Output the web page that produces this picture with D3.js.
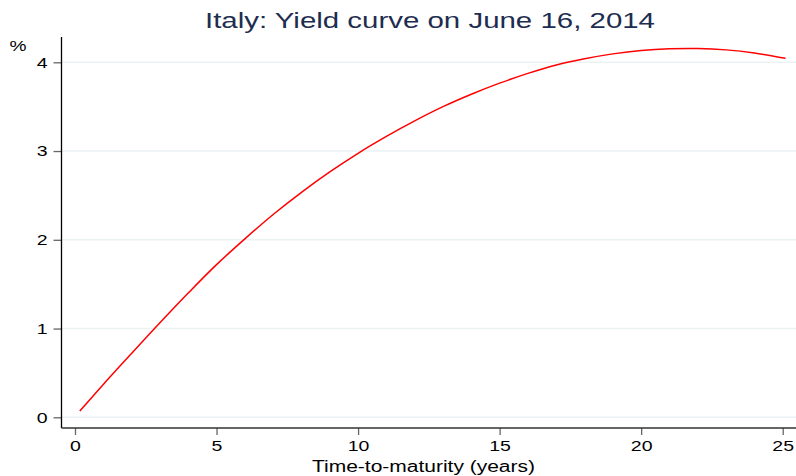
<!DOCTYPE html>
<html>
<head>
<meta charset="utf-8">
<script src="https://cdn.jsdelivr.net/npm/d3@7"></script>
<style>
  body { margin: 0; background: #fff; }
  svg { display: block; font-family: "Liberation Sans", Arial, sans-serif; }
</style>
</head>
<body>
<div id="chart"></div>
<script>
// maturities (years) and fitted yields (%)
var maturity = [0.17, 1, 2, 3, 4, 5, 6, 7, 8, 9, 10, 11, 12, 13, 14, 15, 16, 17, 18, 19, 20, 21, 22, 23, 24, 25.1];
var yieldPct = [0.07, 0.37, 0.72, 1.065, 1.40, 1.72, 2.01, 2.285, 2.535, 2.765, 2.975, 3.165, 3.34, 3.50, 3.64, 3.765, 3.875, 3.97, 4.04, 4.095, 4.133, 4.152, 4.155, 4.14, 4.105, 4.045];
var xTicks = [0, 5, 10, 15, 20, 25];
var yTicks = [0, 1, 2, 3, 4];

var width = 796, height = 476;
var plotLeft = 61.5, plotRight = 796, plotTop = 37, plotBottom = 428;

var svg = d3.select('#chart').append('svg')
    .attr('width', width)
    .attr('height', height);

var x = d3.scaleLinear().domain([0, 25]).range([75, 782.7]);
var y = d3.scaleLinear().domain([0, 4]).range([417.3, 62.3]);

// text in the reference is drawn a bit wider than the font's own width
function stretch(sel, k) {
  sel.each(function() {
    var len = this.getComputedTextLength();
    d3.select(this).attr('textLength', len * k).attr('lengthAdjust', 'spacingAndGlyphs');
  });
}

// grid lines
svg.append('g')
  .selectAll('line')
  .data(yTicks)
  .join('line')
  .attr('x1', plotLeft)
  .attr('x2', plotRight)
  .attr('y1', d => y(d))
  .attr('y2', d => y(d))
  .attr('stroke', '#eaf2f3')
  .attr('stroke-width', 1.5);

// y axis
var yAxis = svg.append('g')
    .attr('transform', `translate(${plotLeft},0)`)
    .call(d3.axisLeft(y).tickValues(yTicks).tickSize(8).tickPadding(6).tickFormat(d3.format('d')));
yAxis.select('.domain').remove();
yAxis.selectAll('.tick line').attr('stroke', '#666').attr('stroke-width', 1.3);
yAxis.selectAll('.tick text').attr('font-size', 15).attr('fill', '#000')
  .attr('font-family', '"Liberation Sans", Arial, sans-serif');
stretch(yAxis.selectAll('.tick text'), 1.3);

// x axis
var xAxis = svg.append('g')
    .attr('transform', `translate(0,${plotBottom})`)
    .call(d3.axisBottom(x).tickValues(xTicks).tickSize(7).tickPadding(5).tickFormat(d3.format('d')));
xAxis.select('.domain').remove();
xAxis.selectAll('.tick line').attr('stroke', '#666').attr('stroke-width', 1.3);
xAxis.selectAll('.tick text').attr('font-size', 15).attr('fill', '#000')
  .attr('font-family', '"Liberation Sans", Arial, sans-serif');
stretch(xAxis.selectAll('.tick text'), 1.3);

// axis lines
svg.append('line')
  .attr('x1', plotLeft).attr('x2', plotLeft)
  .attr('y1', plotTop).attr('y2', plotBottom)
  .attr('stroke', '#000').attr('stroke-width', 1.3);
svg.append('line')
  .attr('x1', plotLeft).attr('x2', plotRight)
  .attr('y1', plotBottom).attr('y2', plotBottom)
  .attr('stroke', '#333').attr('stroke-width', 1.3);

// curve
var pts = maturity.map((m, i) => [m, yieldPct[i]]);
var line = d3.line()
    .x(d => x(d[0]))
    .y(d => y(d[1]))
    .curve(d3.curveCatmullRom.alpha(0.5));
svg.append('path')
  .datum(pts)
  .attr('d', line)
  .attr('fill', 'none')
  .attr('stroke', '#ff0000')
  .attr('stroke-width', 1.5);

// titles
svg.append('text')
  .attr('x', 430).attr('y', 28)
  .attr('text-anchor', 'middle')
  .attr('font-size', 22)
  .attr('fill', '#1e2d4f')
  .attr('textLength', 450)
  .attr('lengthAdjust', 'spacingAndGlyphs')
  .text('Italy: Yield curve on June 16, 2014');

svg.append('text')
  .attr('x', 18).attr('y', 51)
  .attr('text-anchor', 'middle')
  .attr('font-size', 15)
  .attr('fill', '#000')
  .attr('textLength', 17)
  .attr('lengthAdjust', 'spacingAndGlyphs')
  .text('%');

svg.append('text')
  .attr('x', 423.5).attr('y', 472)
  .attr('text-anchor', 'middle')
  .attr('font-size', 16)
  .attr('fill', '#000')
  .attr('textLength', 223)
  .attr('lengthAdjust', 'spacingAndGlyphs')
  .text('Time-to-maturity (years)');
</script>
</body>
</html>
